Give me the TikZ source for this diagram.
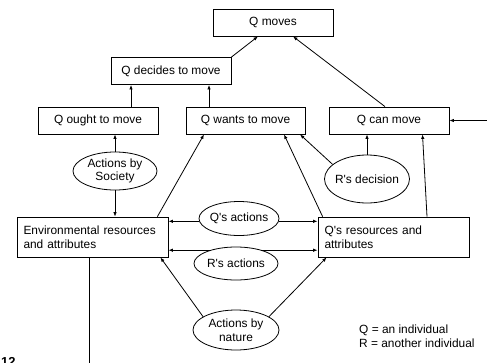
\documentclass[tikz,border=0pt]{standalone}
\usepackage{fontspec}
\setmainfont{Liberation Sans}
\usetikzlibrary{arrows.meta,shapes.geometric,calc}
\newcommand{\apos}{\textquotesingle}
\begin{document}
\begin{tikzpicture}[x=1pt,y=-1pt,
  font=\fontsize{11.9}{13.7}\selectfont,
  box/.style={draw,line width=0.8pt,inner sep=0pt,minimum height=27pt,minimum width=120pt},
  bigbox/.style={draw,line width=0.8pt,minimum width=151pt,minimum height=40pt,text width=138pt,align=left,inner xsep=6pt,inner ysep=0pt},
  oval/.style={draw,ellipse,line width=0.8pt,inner sep=0pt},
  txt/.style={align=center,inner sep=0pt},
  arr/.style={line width=0.8pt,-{Latex[length=4.5pt,width=3.5pt]}},
  ln/.style={line width=0.8pt}]
\useasboundingbox (0,0) rectangle (487,362);
% boxes
\node[box] (qmoves) at (273,22.5) {Q moves};
\node[box] (qdec) at (171,71) {Q decides to move};
\node[box] (qought) at (98,120.5) {Q ought to move};
\node[box,minimum width=119pt] (qwants) at (245.5,120.5) {Q wants to move};
\node[box] (qcan) at (389,120.5) {Q can move};
\node[bigbox] (env) at (92.5,237) {Environmental resources\\and attributes};
\node[bigbox] (qres) at (393.5,237) {Q\apos s resources and\\attributes};
% ellipses
\node[oval,minimum width=84pt,minimum height=38pt] (soc) at (115,171) {};
\node[txt] (soct) at (soc) {Actions by\\Society};
\node[oval,minimum width=85pt,minimum height=48pt] (rdec) at (367,179) {};
\node[txt] (rdect) at (rdec) {R\apos s decision};
\node[oval,minimum width=80pt,minimum height=34pt] (qact) at (239,218.5) {};
\node[txt] (qactt) at (qact) {Q\apos s actions};
\node[oval,minimum width=84pt,minimum height=33pt] (ract) at (236,263.5) {};
\node[txt] (ractt) at (ract) {R\apos s actions};
\node[oval,minimum width=86pt,minimum height=40pt] (nat) at (236,330) {};
\node[txt] (natt) at (nat) {Actions by\\nature};
% legend
\node[anchor=base west,inner sep=0pt] (leg1) at (359,333) {Q = an individual};
\node[anchor=base west,inner sep=0pt] (leg2) at (359,347) {R = another individual};
\node[anchor=north west,inner sep=0pt,font=\bfseries\fontsize{13}{15}\selectfont] (fig) at (1,357) {12};
% free ends
\coordinate (rin) at (490,120.5);
\coordinate (envdown) at (89,366);
% connectors
\draw[arr] ([xshift=33pt]qought.north) -- ([xshift=-40pt]qdec.south);
\draw[arr] ([xshift=-36.5pt]qwants.north) -- ([xshift=38pt]qdec.south);
\draw[arr] (qdec.north east) -- ([xshift=-15pt]qmoves.south);
\draw[arr] ([xshift=-4pt]qcan.north) -- ([xshift=20pt]qmoves.south);
\draw[arr] (soc.north) -- (soc.north |- qought.south);
\draw[arr] (soc.south) -- (soc.south |- env.north);
\draw[arr] ([xshift=-11pt]env.north east) -- ([xshift=-41.5pt]qwants.south);
\draw[arr] ([xshift=5pt]qres.north west) -- ([xshift=38.5pt]qwants.south);
\draw[arr] (rdec.157) -- ([xshift=54.5pt]qwants.south);
\draw[arr] (rdec.north) -- (rdec.north |- qcan.south);
\draw[arr] ([xshift=33.5pt]qres.north) -- ([xshift=33.5pt]qcan.south);
\draw[arr] (rin) -- (qcan.east);
\draw[arr] (qact.184) -- (qact.184 -| env.east);
\draw[arr] (qact.-4) -- (qact.-4 -| qres.west);
\draw[arr] (ract.153) -- (ract.153 -| env.east);
\draw[arr] (ract.27) -- (ract.27 -| qres.west);
\draw[arr] (nat.158) -- ([xshift=-8pt]env.south east);
\draw[arr] (nat.22) -- ([xshift=9pt]qres.south west);
\draw[ln] ([xshift=-3.5pt]env.south) -- (envdown);
\end{tikzpicture}
\end{document}
